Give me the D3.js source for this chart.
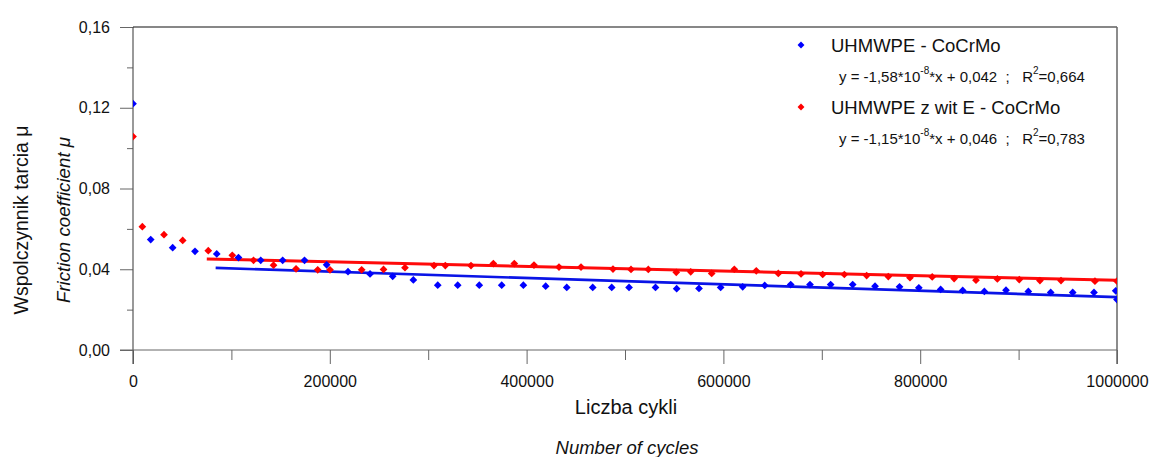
<!DOCTYPE html>
<html>
<head>
<meta charset="utf-8">
<script src="https://cdn.jsdelivr.net/npm/d3@7"></script>
<style>
  body { margin: 0; background: #fff; }
  svg { display: block; font-family: "Liberation Sans", Arial, sans-serif; }
</style>
</head>
<body>
<svg id="chart" width="1149" height="457"></svg>
<script>
// values
let blueCycles = [0, 18000, 40300, 63000, 85100, 107200, 129800, 152100, 174300, 196800,
  218500, 240900, 263900, 284900, 309700, 330000, 351900, 374700, 396700, 419400,
  440800, 467200, 486500, 504100, 531000, 552500, 575200, 597200, 619600, 642000,
  668400, 688000, 709000, 731400, 754100, 779000, 798600, 820800, 843200, 865200,
  887200, 909900, 932600, 955000, 976600, 998700, 1000000];
let blueMu = [0.122, 0.0547, 0.0507, 0.0489, 0.0476, 0.0458, 0.0444, 0.0444, 0.0444, 0.0422,
  0.0388, 0.0377, 0.0365, 0.0347, 0.0321, 0.0321, 0.0321, 0.0321, 0.0321, 0.0316,
  0.031, 0.031, 0.031, 0.031, 0.031, 0.0304, 0.0305, 0.031, 0.0313, 0.032,
  0.0324, 0.0324, 0.0324, 0.0324, 0.0316, 0.0313, 0.0308, 0.03, 0.0295, 0.029,
  0.0296, 0.029, 0.0285, 0.0285, 0.0285, 0.0293, 0.025];

let redCycles = [0, 9500, 31500, 50500, 76500, 100900, 122500, 142800, 165700, 187700,
  200200, 232400, 254600, 276400, 305900, 317400, 343500, 366200, 387500, 407500,
  432900, 455300, 487800, 506100, 523700, 552100, 566800, 588100, 611100, 633400,
  655800, 678900, 700900, 722900, 745600, 767600, 789600, 812200, 834500, 856700,
  878400, 900700, 921700, 943100, 977600, 1000000];
let redMu = [0.1057, 0.0611, 0.0571, 0.0543, 0.0492, 0.0469, 0.0444, 0.042, 0.0402, 0.0397,
  0.0397, 0.0397, 0.0399, 0.0408, 0.0418, 0.0418, 0.0418, 0.0428, 0.0428, 0.0421,
  0.0411, 0.0411, 0.0401, 0.0399, 0.0399, 0.0385, 0.0387, 0.0379, 0.04, 0.0392,
  0.0379, 0.0377, 0.0374, 0.0374, 0.0369, 0.0364, 0.0358, 0.0362, 0.0354, 0.0346,
  0.0352, 0.0349, 0.0344, 0.0344, 0.0341, 0.0341];

// linear fits: [slope, intercept, start cycles, end cycles]
let blueFit = [-1.58e-8, 0.042, 84000, 1000000];
let redFit = [-1.15e-8, 0.046, 75000, 1000000];

let yMajor = [0, 0.04, 0.08, 0.12, 0.16];
let yMinor = [0.02, 0.06, 0.10, 0.14];
let xMajor = [0, 200000, 400000, 600000, 800000, 1000000];
let xMinor = [100000, 300000, 500000, 700000, 900000];

let legendNames = ["UHMWPE - CoCrMo", "UHMWPE z wit E - CoCrMo"];
let legendEq = [
  ["y = -1,58*10", "-8", "*x + 0,042  ;   R", "2", "=0,664"],
  ["y = -1,15*10", "-8", "*x + 0,046  ;   R", "2", "=0,783"]
];

const svg = d3.select('#chart');
const mLeft = 133, mRight = 1117, mTop = 27, mBottom = 350;

const x = d3.scaleLinear().domain([0, 1000000]).range([mLeft, mRight]);
const y = d3.scaleLinear().domain([0, 0.16]).range([mBottom, mTop]);

const comma = d => d3.format('.2f')(d).replace('.', ',');

// y axis
const gy = svg.append('g').attr('transform', `translate(${mLeft},0)`);
gy.call(d3.axisLeft(y).tickValues(yMajor).tickFormat(comma).tickSize(13).tickPadding(10));
gy.append('g').call(d3.axisLeft(y).tickValues(yMinor).tickFormat('').tickSize(6));
gy.selectAll('.domain').remove();
gy.selectAll('line').attr('stroke', '#666');
gy.selectAll('text').attr('font-size', 16).attr('fill', '#111').attr('font-family', null);

// x axis
const gx = svg.append('g').attr('transform', `translate(0,${mBottom})`);
gx.call(d3.axisBottom(x).tickValues(xMajor).tickFormat(d3.format('d')).tickSize(14).tickPadding(12));
gx.append('g').call(d3.axisBottom(x).tickValues(xMinor).tickFormat('').tickSize(10));
gx.selectAll('.domain').remove();
gx.selectAll('line').attr('stroke', '#666');
gx.selectAll('text').attr('font-size', 16).attr('fill', '#111').attr('font-family', null);

// frame
svg.append('line').attr('x1', mLeft).attr('x2', mLeft).attr('y1', mTop).attr('y2', mBottom + 14)
  .attr('stroke', '#555').attr('stroke-width', 1.2);
svg.append('line').attr('x1', mLeft - 13).attr('x2', mRight).attr('y1', mBottom).attr('y2', mBottom)
  .attr('stroke', '#666');
svg.append('line').attr('x1', mLeft).attr('x2', mRight).attr('y1', mTop).attr('y2', mTop)
  .attr('stroke', '#111').attr('stroke-width', 1.2);
svg.append('line').attr('x1', mRight).attr('x2', mRight).attr('y1', mTop).attr('y2', mBottom + 14)
  .attr('stroke', '#666').attr('stroke-width', 1.5);

svg.append('clipPath').attr('id', 'plot')
  .append('rect').attr('x', mLeft).attr('y', mTop).attr('width', mRight - mLeft).attr('height', mBottom - mTop);

const plot = svg.append('g').attr('clip-path', 'url(#plot)');

// fit lines
[[blueFit, '#0a14e6', 2.6], [redFit, '#ff0a0a', 3]].forEach(([f, c, w]) => {
  plot.append('line')
    .attr('x1', x(f[2])).attr('y1', y(f[0] * f[2] + f[1]))
    .attr('x2', x(f[3])).attr('y2', y(f[0] * f[3] + f[1]))
    .attr('stroke', c).attr('stroke-width', w);
});

const diamond = d3.symbol().type(d3.symbolSquare).size(30);

function drawPoints(xs, ys, color) {
  plot.append('g').selectAll('path')
    .data(xs.map((d, i) => [d, ys[i]]))
    .join('path')
    .attr('d', diamond)
    .attr('transform', d => `translate(${x(d[0])},${y(d[1])}) rotate(45)`)
    .attr('fill', color);
}
drawPoints(redCycles, redMu, '#ff0000');
drawPoints(blueCycles, blueMu, '#0000ff');

// legend
const lg = svg.append('g');
const legendColors = ['#0000ff', '#ff0000'];
const rowY = [45, 107];
legendNames.forEach((name, i) => {
  lg.append('path').attr('d', d3.symbol().type(d3.symbolSquare).size(24))
    .attr('transform', `translate(801,${rowY[i]}) rotate(45)`).attr('fill', legendColors[i]);
  lg.append('text').attr('x', 831).attr('y', rowY[i] + 6.5)
    .attr('font-size', 18.5).attr('fill', '#111').text(name);
  const t = lg.append('text').attr('x', 839).attr('y', rowY[i] + 37)
    .attr('font-size', 15).attr('fill', '#111').attr('xml:space', 'preserve');
  legendEq[i].forEach((s, k) => {
    const sp = t.append('tspan').text(s);
    if (k % 2 === 1) sp.attr('font-size', 10).attr('dy', -8);
    else if (k > 0) sp.attr('dy', 8);
  });
});

// axis titles
svg.append('text').attr('transform', 'translate(28,220) rotate(-90)')
  .attr('text-anchor', 'middle').attr('font-size', 19.5).attr('fill', '#111')
  .text('Wspolczynnik tarcia μ');
svg.append('text').attr('transform', 'translate(70,220) rotate(-90)')
  .attr('text-anchor', 'middle').attr('font-size', 18.7).attr('font-style', 'italic').attr('fill', '#111')
  .text('Friction coefficient μ');
svg.append('text').attr('x', 626).attr('y', 414)
  .attr('text-anchor', 'middle').attr('font-size', 20).attr('fill', '#111')
  .text('Liczba cykli');
svg.append('text').attr('x', 627).attr('y', 454)
  .attr('text-anchor', 'middle').attr('font-size', 18.5).attr('font-style', 'italic').attr('fill', '#111')
  .text('Number of cycles');
</script>
</body>
</html>
